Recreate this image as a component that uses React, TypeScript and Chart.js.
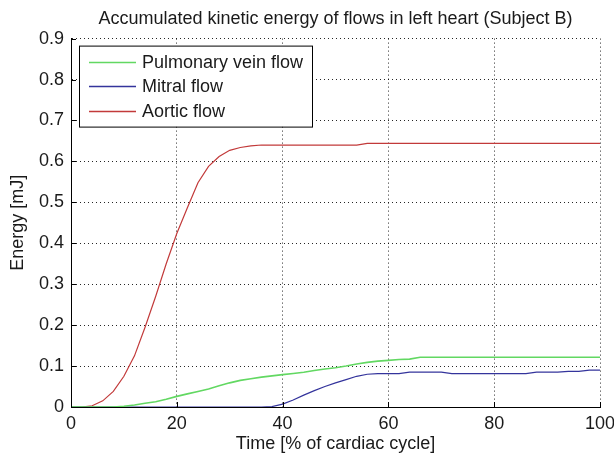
import React, { useEffect, useRef } from "react";
import { Chart, registerables } from "chart.js";

Chart.register(...registerables);

// Time axis, percent of cardiac cycle
const timePct = [
  0, 2, 4, 6, 8, 10, 12, 14, 16, 18, 20, 22, 24, 26, 28, 30, 32, 34, 36, 38, 40,
  42, 44, 46, 48, 50, 52, 54, 56, 58, 60, 62, 64, 66, 68, 70, 72, 74, 76, 78, 80,
  82, 84, 86, 88, 90, 92, 94, 96, 98, 100,
];

// Accumulated kinetic energy [mJ]
const pulmonaryVein = [
  0, 0, 0, 0, 0, 0.002, 0.005, 0.009, 0.013, 0.019, 0.026, 0.032, 0.038, 0.044,
  0.052, 0.059, 0.065, 0.069, 0.073, 0.076, 0.079, 0.082, 0.085, 0.089, 0.093,
  0.096, 0.1, 0.105, 0.109, 0.112, 0.114, 0.116, 0.117, 0.1215, 0.1215, 0.1215,
  0.1215, 0.1215, 0.1215, 0.1215, 0.1215, 0.1215, 0.1215, 0.1215, 0.1215,
  0.1215, 0.1215, 0.1215, 0.1215, 0.1215, 0.1215,
];

const mitral = [
  0, 0, 0, 0, 0, 0, 0, 0, 0, 0, 0, 0, 0, 0, 0, 0, 0, 0, 0, 0.001, 0.007, 0.017,
  0.029, 0.04, 0.05, 0.059, 0.067, 0.075, 0.08, 0.0815, 0.0815, 0.0815, 0.085,
  0.085, 0.085, 0.085, 0.0815, 0.0815, 0.0815, 0.0815, 0.0815, 0.0815, 0.0815,
  0.0815, 0.085, 0.085, 0.085, 0.087, 0.087, 0.09, 0.09,
];

const aortic = [
  0, 0, 0.003, 0.015, 0.038, 0.075, 0.125, 0.195, 0.27, 0.35, 0.424, 0.487,
  0.548, 0.588, 0.612, 0.627, 0.634, 0.638, 0.64, 0.64, 0.64, 0.64, 0.64, 0.64,
  0.64, 0.64, 0.64, 0.64, 0.644, 0.644, 0.644, 0.644, 0.644, 0.644, 0.644,
  0.644, 0.644, 0.644, 0.644, 0.644, 0.644, 0.644, 0.644, 0.644, 0.644, 0.644,
  0.644, 0.644, 0.644, 0.644, 0.644,
];

const seriesNames = ["Pulmonary vein flow", "Mitral flow", "Aortic flow"];
const seriesColors = ["#62d862", "#34349c", "#c23a3a"];

const xTicks = [0, 20, 40, 60, 80, 100];
const yTicks = [0, 0.1, 0.2, 0.3, 0.4, 0.5, 0.6, 0.7, 0.8, 0.9];

const titleText = "Accumulated kinetic energy of flows in left heart (Subject B)";
const xLabel = "Time [% of cardiac cycle]";
const yLabel = "Energy [mJ]";

const FAMILY = "'Liberation Sans', Arial, sans-serif";
const FONT_SIZE = 18;
const TEXT_COLOR = "#1a1a1a";

// Small tick marks pointing into the plot area, plus the boxed legend
const insideTicksAndLegend = {
  id: "insideTicksAndLegend",
  afterDatasetsDraw(chart: any) {
    const { ctx, chartArea, scales } = chart;
    const xs = scales.x;
    const ys = scales.y;
    ctx.save();
    ctx.strokeStyle = "#000";
    ctx.lineWidth = 1;
    ctx.beginPath();
    xTicks.forEach((v) => {
      const px = Math.round(xs.getPixelForValue(v)) + 0.5;
      ctx.moveTo(px, chartArea.bottom);
      ctx.lineTo(px, chartArea.bottom - 5);
    });
    yTicks.forEach((v) => {
      const py = Math.round(ys.getPixelForValue(v)) + 0.5;
      ctx.moveTo(chartArea.left, py);
      ctx.lineTo(chartArea.left + 5, py);
    });
    ctx.stroke();

    // legend
    const bx = chartArea.left + 8;
    const by = chartArea.top + 7;
    const bw = 233;
    const bh = 81;
    ctx.fillStyle = "#fff";
    ctx.fillRect(bx, by, bw, bh);
    ctx.strokeStyle = "#000";
    ctx.strokeRect(bx + 0.5, by + 0.5, bw, bh);
    ctx.font = `${FONT_SIZE}px ${FAMILY}`;
    ctx.textBaseline = "middle";
    ctx.textAlign = "left";
    chart.data.datasets.forEach((ds: any, i: number) => {
      const cy = by + 16 + i * 24.8;
      ctx.strokeStyle = ds.borderColor;
      ctx.lineWidth = 1.5;
      ctx.beginPath();
      ctx.moveTo(bx + 10, Math.round(cy) + 0.5);
      ctx.lineTo(bx + 57, Math.round(cy) + 0.5);
      ctx.stroke();
      ctx.fillStyle = TEXT_COLOR;
      ctx.fillText(ds.label, bx + 63, cy + 1);
    });
    ctx.restore();
  },
};

export default function App() {
  const canvasRef = useRef<HTMLCanvasElement | null>(null);

  useEffect(() => {
    if (!canvasRef.current) return;
    const series = [pulmonaryVein, mitral, aortic];
    const chart = new Chart(canvasRef.current, {
      type: "line",
      data: {
        datasets: series.map((vals, i) => ({
          label: seriesNames[i],
          data: timePct.map((t, k) => ({ x: t, y: vals[k] })),
          borderColor: seriesColors[i],
          backgroundColor: seriesColors[i],
          borderWidth: i === 0 ? 1.6 : 1.2,
          pointRadius: 0,
          tension: 0,
          fill: false,
        })),
      },
      options: {
        responsive: false,
        animation: false,
        layout: { padding: { left: 0, right: 14, top: 0, bottom: 0 } },
        plugins: {
          legend: { display: false },
          tooltip: { enabled: false },
          title: {
            display: true,
            fullSize: false,
            text: titleText,
            color: TEXT_COLOR,
            font: { family: FAMILY, size: FONT_SIZE, weight: "normal" },
            padding: { top: 8, bottom: 9 },
          },
        },
        scales: {
          x: {
            type: "linear",
            min: 0,
            max: 100,
            afterBuildTicks: (scale: any) => {
              scale.ticks = xTicks.map((v) => ({ value: v }));
            },
            afterFit: (scale: any) => {
              scale.height = 50;
              scale.paddingLeft = 0;
              scale.paddingRight = 0;
            },
            ticks: {
              color: TEXT_COLOR,
              padding: 6,
              maxRotation: 0,
              font: { family: FAMILY, size: FONT_SIZE },
            },
            grid: {
              color: "rgba(0,0,0,0.85)",
              lineWidth: 1,
              drawTicks: false,
            },
            border: { display: true, color: "#000", width: 1, dash: [1, 3] },
            title: {
              display: true,
              text: xLabel,
              color: TEXT_COLOR,
              font: { family: FAMILY, size: FONT_SIZE },
              padding: { top: 0, bottom: 2 },
            },
          },
          y: {
            type: "linear",
            min: 0,
            max: 0.9,
            afterBuildTicks: (scale: any) => {
              scale.ticks = yTicks.map((v) => ({ value: v }));
            },
            afterFit: (scale: any) => {
              scale.width = 71;
              scale.paddingTop = 0;
              scale.paddingBottom = 0;
            },
            ticks: {
              color: TEXT_COLOR,
              padding: 7,
              font: { family: FAMILY, size: FONT_SIZE },
              callback: (v: any) => (Number(v) === 0 ? "0" : Number(v).toFixed(1)),
            },
            grid: {
              color: "rgba(0,0,0,0.85)",
              lineWidth: 1,
              drawTicks: false,
            },
            border: { display: true, color: "#000", width: 1, dash: [1, 3] },
            title: {
              display: true,
              text: yLabel,
              color: TEXT_COLOR,
              font: { family: FAMILY, size: FONT_SIZE },
              padding: { top: 7, bottom: 0 },
            },
          },
        },
      },
      plugins: [insideTicksAndLegend],
    });
    return () => chart.destroy();
  }, []);

  return (
    <div style={{ position: "absolute", left: 0, top: 0, width: 614, height: 457, background: "#fff" }}>
      <canvas ref={canvasRef} width={614} height={457} />
    </div>
  );
}
